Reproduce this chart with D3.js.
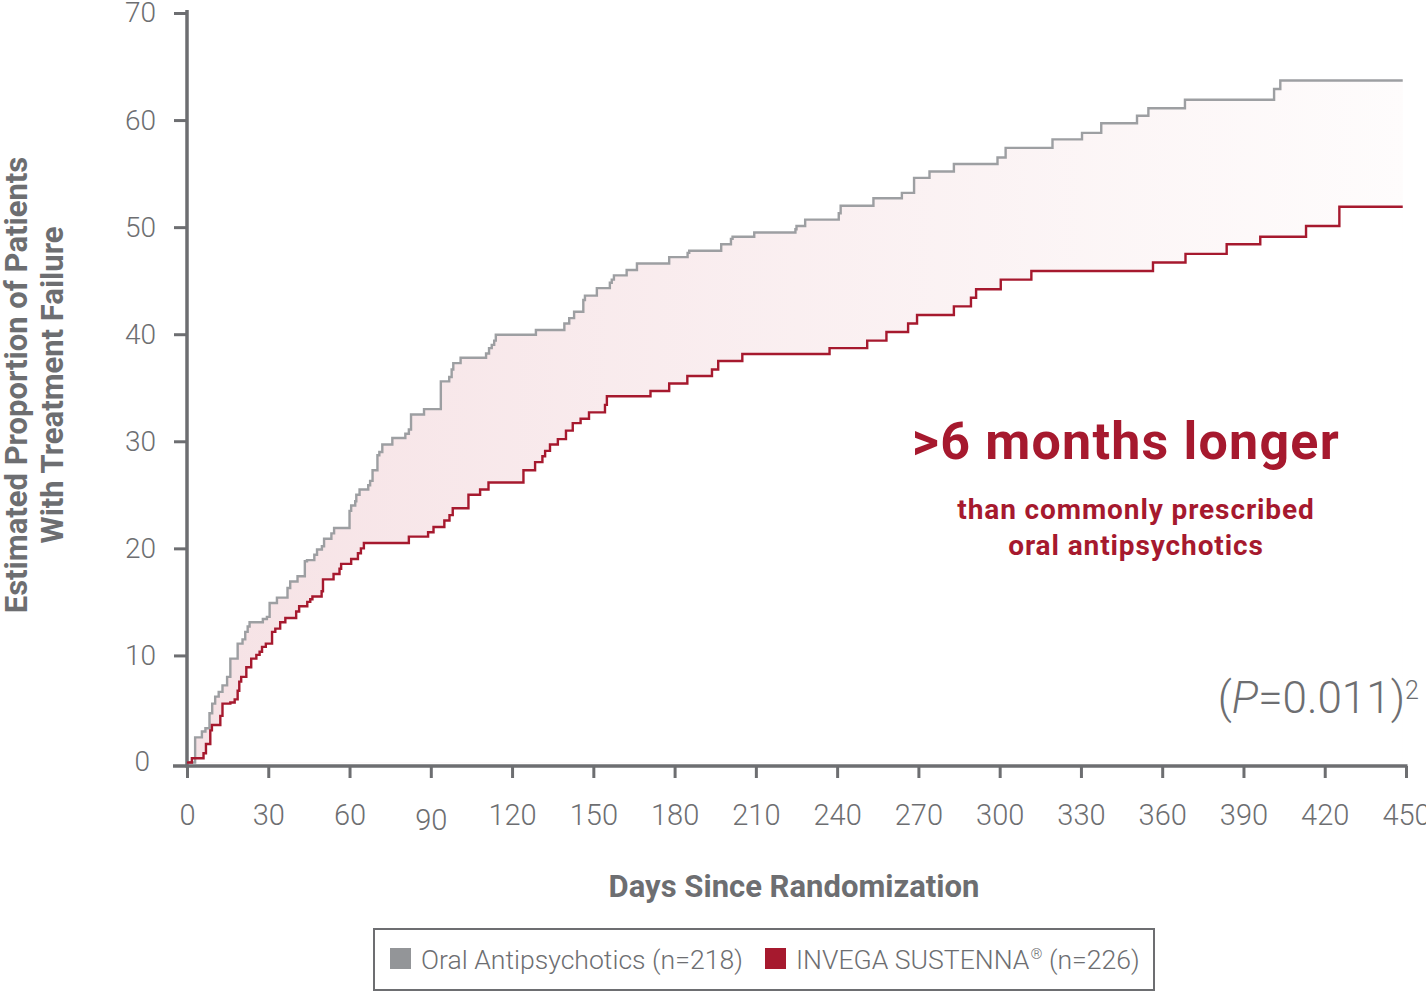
<!DOCTYPE html>
<html>
<head>
<meta charset="utf-8">
<script src="https://cdn.jsdelivr.net/npm/d3@7"></script>
<style>
  body { margin: 0; background: #fff; }
  svg { display: block; font-family: Roboto, "Noto Sans", sans-serif; }
</style>
</head>
<body>
<div id="chart"></div>
<script>
const width = 1426;
const height = 992;

// days of each step (Kaplan-Meier style) and estimated % with treatment failure
const oralDays = [0, 3, 5.5, 6.8, 8.3, 9.3, 10.4, 11.7, 13.1, 14.8, 16, 18.7, 20.5, 21.5, 22.4, 23.1, 28, 29.5,
  30.5, 33.2, 37.1, 38.1, 40.8, 43.5, 44.3, 47, 48, 49.8, 50.6, 53.3, 54.3, 60, 60.6, 62.1, 62.5, 63.7, 66.9,
  67.6, 68.5, 70.3, 71, 72.1, 75.8, 80.6, 81.9, 82.7, 87.5, 93.7, 96.8, 97.7, 98.3, 101, 110.4, 111.5, 112.5,
  113.4, 114, 128.8, 139.3, 141.1, 142.9, 146.3, 146.9, 151.3, 156.1, 156.8, 157.6, 162.3, 166.1, 178, 184.8,
  185.4, 197.2, 200.8, 201.4, 209.4, 224.6, 225, 228.2, 240.6, 241.3, 253.4, 263.9, 268.4, 274.1, 283.1, 299.2,
  302.2, 319.5, 330.4, 337.5, 350.7, 354.9, 368.4, 401.3, 403.6, 448.8];
const oralValues = [0, 2.35, 2.9, 3.2, 4.6, 5.5, 6.15, 6.6, 7.2, 8.0, 9.7, 11.1, 11.5, 12.2, 12.7, 13.1, 13.4, 13.6,
  14.9, 15.4, 16.3, 16.9, 17.4, 18.8, 18.9, 19.4, 19.9, 20.2, 20.9, 21.4, 21.9, 23.5, 24.0, 24.4, 25.0, 25.5, 25.9,
  26.3, 27.3, 28.7, 29.0, 29.7, 30.3, 30.7, 31.1, 32.5, 33.0, 35.6, 36.0, 36.7, 37.3, 37.8, 38.2, 38.7, 39.0,
  39.4, 39.95, 40.4, 41.0, 41.5, 42.1, 43.2, 43.6, 44.3, 44.8, 45.1, 45.5, 46.0, 46.6, 47.2, 47.6,
  47.8, 48.4, 48.9, 49.1, 49.5, 49.8, 50.1, 50.7, 51.3, 52.0, 52.7, 53.2, 54.6, 55.2, 55.9, 56.5,
  57.4, 58.2, 58.8, 59.7, 60.4, 61.1, 61.9, 62.9, 63.7, 63.7];

const invegaDays = [0, 1.8, 6.1, 7, 8.6, 9.2, 12.3, 13.1, 16, 17.6, 18.7, 19.3, 20, 21.9, 23.7, 25.6, 26.8, 27.7,
  29.1, 31.4, 32.6, 34.4, 36.3, 40.3, 41.4, 44.4, 45.5, 46.3, 49.7, 50.2, 54.1, 56.3, 56.9, 60.6, 63.1, 64.2,
  65.3, 81.9, 89, 91, 95, 96.9, 98.1, 103.9, 108.2, 111.3, 124.2, 128.5, 131.2, 132.2, 134, 136.9, 139.9, 142.4,
  145.3, 148.4, 154.3, 155, 171.1, 178, 184.7, 193.8, 196.1, 205, 237.2, 251.1, 258.2, 266.2, 269.5, 283.1,
  289.4, 291.3, 300.4, 311.7, 356.6, 368.6, 383.8, 396.2, 413.1, 425.4, 448.8];
const invegaValues = [0, 0.4, 0.86, 1.73, 3.0, 3.5, 4.35, 5.5, 5.6, 5.9, 6.7, 7.55, 8.0, 8.9, 9.7, 10.05, 10.35, 10.8,
  11.1, 12.2, 12.5, 13.1, 13.5, 14.1, 14.6, 15.0, 15.25, 15.5, 16.0, 17.1, 17.6, 18.1, 18.55, 19.0, 19.55, 20.0,
  20.5, 21.1, 21.5, 22.0, 22.6, 23.1, 23.75, 25.0, 25.5, 26.15, 27.3, 28.05, 28.6, 29.1, 29.7, 30.2, 31.0, 31.7,
  32.1, 32.7, 33.4, 34.2, 34.7, 35.4, 36.1, 36.7, 37.5, 38.15, 38.7, 39.4, 40.2, 41.0, 41.8, 42.6,
  43.4, 44.2, 45.1, 45.9, 46.7, 47.5, 48.4, 49.1, 50.1, 51.9, 51.9];

const xTicks = [0, 30, 60, 90, 120, 150, 180, 210, 240, 270, 300, 330, 360, 390, 420, 450];
const yTicks = [10, 20, 30, 40, 50, 60, 70];

const axisColor = "#6d6e71";
const grayLine = "#9d9fa2";
const grayKey = "#939598";
const red = "#a6192e";

const oral = oralDays.map((d, i) => ({ day: d, value: oralValues[i] }));
const invega = invegaDays.map((d, i) => ({ day: d, value: invegaValues[i] }));

const svg = d3.select("#chart")
  .append("svg")
  .attr("width", width)
  .attr("height", height);

const x = d3.scaleLinear().domain([0, 450]).range([187, 1406]);
const y = d3.scaleLinear().domain([0, 70]).range([762.5, 13]);
const axisY = 766;

// fill between the two curves, fading to the right
const grad = svg.append("defs").append("linearGradient")
  .attr("id", "gap")
  .attr("gradientUnits", "userSpaceOnUse")
  .attr("x1", x(0)).attr("x2", x(450))
  .attr("y1", 0).attr("y2", 0);
grad.append("stop").attr("offset", "0%").attr("stop-color", "#f6e2e5");
grad.append("stop").attr("offset", "100%").attr("stop-color", "#fefcfc");

const area = d3.area()
  .curve(d3.curveStepAfter)
  .x(d => x(d.day))
  .y0(y(0))
  .y1(d => y(d.value));

svg.append("path").datum(oral).attr("d", area).attr("fill", "url(#gap)");
svg.append("path").datum(invega).attr("d", area).attr("fill", "#fff");

// axes
const xAxis = svg.append("g")
  .attr("transform", `translate(0,${axisY})`)
  .call(d3.axisBottom(x).tickValues(xTicks).tickSize(12).tickPadding(26));
xAxis.select(".domain").remove();
xAxis.selectAll(".tick line").attr("stroke", axisColor).attr("stroke-width", 3);
xAxis.selectAll(".tick text")
  .attr("fill", axisColor)
  .attr("font-size", 29)
  .attr("font-weight", 300)
  .attr("font-family", "Roboto")
  .attr("dy", d => d === 90 ? "0.88em" : "0.71em");

const yAxis = svg.append("g")
  .attr("transform", `translate(${x(0)},0)`)
  .call(d3.axisLeft(y).tickValues(yTicks).tickSize(13).tickPadding(18));
yAxis.select(".domain").remove();
yAxis.selectAll(".tick line").attr("stroke", axisColor).attr("stroke-width", 3);
yAxis.selectAll(".tick text")
  .attr("fill", axisColor)
  .attr("font-size", 28)
  .attr("font-weight", 300)
  .attr("font-family", "Roboto");

svg.append("text")
  .attr("x", x(0) - 37)
  .attr("y", y(0))
  .attr("dy", "0.32em")
  .attr("text-anchor", "end")
  .attr("fill", axisColor)
  .attr("font-size", 28)
  .attr("font-weight", 300)
  .text("0");

svg.append("line")
  .attr("x1", x(0)).attr("x2", x(0))
  .attr("y1", y(70) - 3).attr("y2", axisY + 1.5)
  .attr("stroke", axisColor).attr("stroke-width", 3.5);
svg.append("line")
  .attr("x1", 173).attr("x2", x(450) + 1.5)
  .attr("y1", axisY).attr("y2", axisY)
  .attr("stroke", axisColor).attr("stroke-width", 3.5);

// curves
const line = d3.line()
  .curve(d3.curveStepAfter)
  .x(d => x(d.day))
  .y(d => y(d.value));

svg.append("path").datum(oral)
  .attr("d", line)
  .attr("fill", "none")
  .attr("stroke", grayLine)
  .attr("stroke-width", 2.4);
svg.append("path").datum(invega)
  .attr("d", line)
  .attr("fill", "none")
  .attr("stroke", red)
  .attr("stroke-width", 2.4);

// axis titles
svg.append("text")
  .attr("x", 794)
  .attr("y", 897)
  .attr("text-anchor", "middle")
  .attr("fill", axisColor)
  .attr("font-size", 31)
  .attr("font-weight", 700)
  .text("Days Since Randomization");

const yTitle = svg.append("text")
  .attr("transform", "translate(0,385) rotate(-90)")
  .attr("text-anchor", "middle")
  .attr("fill", axisColor)
  .attr("font-size", 31)
  .attr("font-weight", 700);
yTitle.append("tspan").attr("x", 0).attr("y", 27).text("Estimated Proportion of Patients");
yTitle.append("tspan").attr("x", 0).attr("y", 63).text("With Treatment Failure");

// callout
svg.append("text")
  .attr("x", 1126)
  .attr("y", 459)
  .attr("text-anchor", "middle")
  .attr("fill", red)
  .attr("font-size", 52)
  .attr("font-weight", 700)
  .attr("letter-spacing", 1.2)
  .text(">6 months longer");

const sub = svg.append("text")
  .attr("text-anchor", "middle")
  .attr("fill", red)
  .attr("font-size", 28)
  .attr("font-weight", 700)
  .attr("letter-spacing", 0.9);
sub.append("tspan").attr("x", 1136).attr("y", 519).text("than commonly prescribed");
sub.append("tspan").attr("x", 1136).attr("y", 555).text("oral antipsychotics");

const pText = svg.append("text")
  .attr("x", 1405)
  .attr("y", 713)
  .attr("text-anchor", "end")
  .attr("fill", axisColor)
  .attr("font-size", 44)
  .attr("font-weight", 300);
pText.append("tspan").text("(");
pText.append("tspan").attr("font-style", "italic").text("P");
pText.append("tspan").text("=0.011)");
svg.append("text")
  .attr("x", 1405)
  .attr("y", 699)
  .attr("fill", axisColor)
  .attr("font-size", 25)
  .attr("font-weight", 300)
  .text("2");

// legend
const legend = svg.append("g");
legend.append("rect")
  .attr("x", 374).attr("y", 929)
  .attr("width", 780).attr("height", 61)
  .attr("fill", "#fff")
  .attr("stroke", axisColor)
  .attr("stroke-width", 2);

const keys = [
  { name: "Oral Antipsychotics (n=218)", mark: "", tail: "", color: grayKey, x: 390 },
  { name: "INVEGA SUSTENNA", mark: "\u00ae", tail: " (n=226)", color: red, x: 765 }
];
const item = legend.selectAll("g.key")
  .data(keys)
  .join("g")
  .attr("class", "key")
  .attr("transform", d => `translate(${d.x},948)`);
item.append("rect")
  .attr("width", 21).attr("height", 21)
  .attr("fill", d => d.color);
const label = item.append("text")
  .attr("x", 31)
  .attr("y", 21)
  .attr("fill", axisColor)
  .attr("font-size", 26.6)
  .attr("font-weight", 300);
label.append("tspan").text(d => d.name);
label.append("tspan")
  .attr("font-size", 15)
  .attr("dy", -10)
  .attr("dx", 1)
  .text(d => d.mark);
label.append("tspan")
  .attr("dy", 10)
  .text(d => d.tail);
</script>
</body>
</html>
